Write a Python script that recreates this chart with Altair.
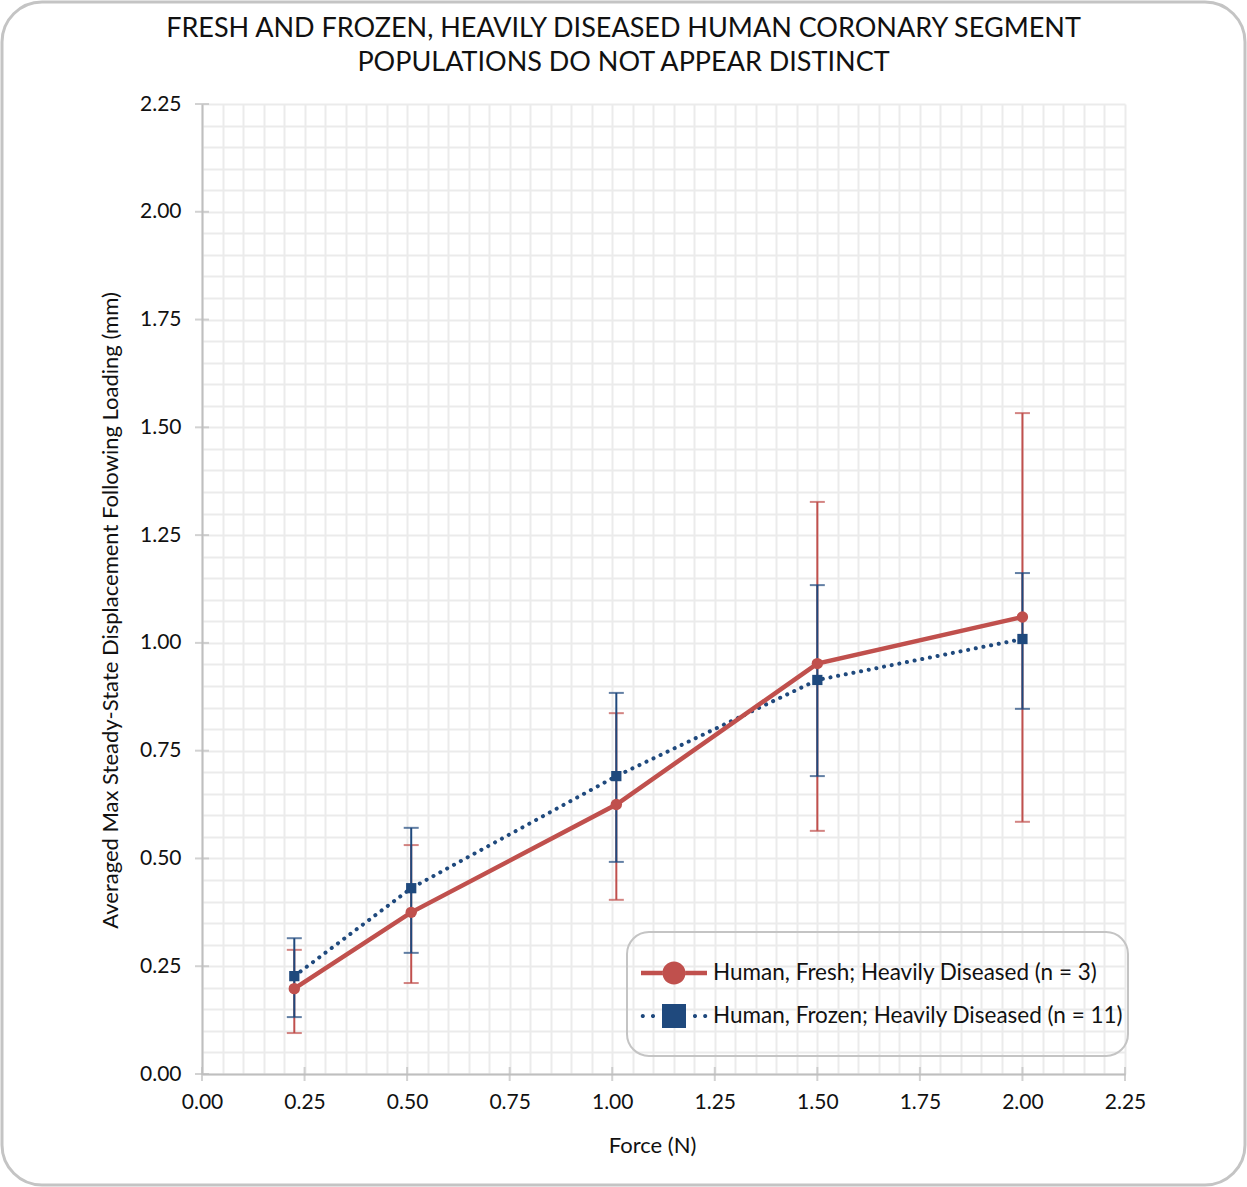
import altair as alt
import pandas as pd

# ---- data ----
force = [0.225, 0.51, 1.01, 1.5, 2.0]
fresh_mean = [0.198, 0.375, 0.625, 0.952, 1.060]
fresh_lo = [0.095, 0.211, 0.404, 0.564, 0.585]
fresh_hi = [0.288, 0.531, 0.837, 1.327, 1.533]
frozen_mean = [0.227, 0.431, 0.691, 0.914, 1.009]
frozen_lo = [0.132, 0.281, 0.492, 0.691, 0.847]
frozen_hi = [0.315, 0.571, 0.884, 1.134, 1.162]

major_ticks = [0.0, 0.25, 0.5, 0.75, 1.0, 1.25, 1.5, 1.75, 2.0, 2.25]

FRESH_LABEL = "Human, Fresh; Heavily Diseased (n = 3)"
FROZEN_LABEL = "Human, Frozen; Heavily Diseased (n = 11)"
TITLE = ["FRESH AND FROZEN, HEAVILY DISEASED HUMAN CORONARY SEGMENT",
         "POPULATIONS DO NOT APPEAR DISTINCT"]
X_TITLE = "Force (N)"
Y_TITLE = "Averaged Max Steady-State Displacement Following Loading (mm)"

RED = "#C0504D"
BLUE = "#1F497D"
AXIS_GREY = "#BFBFBF"
FONT = "Lato"
W, H = 923, 970

fresh = pd.DataFrame({"force": force, "mean": fresh_mean, "lo": fresh_lo,
                      "hi": fresh_hi, "series": FRESH_LABEL})
frozen = pd.DataFrame({"force": force, "mean": frozen_mean, "lo": frozen_lo,
                       "hi": frozen_hi, "series": FROZEN_LABEL})
ticks_df = pd.DataFrame({"v": major_ticks, "zero": [0.0] * len(major_ticks)})

grid_vals = [round(i * 0.05, 2) for i in range(46)]
major = "abs(datum.value*4 - round(datum.value*4)) < 0.001"
label_expr = f"{major} ? format(datum.value, '.2f') : ''"

x_scale = alt.Scale(domain=[0, 2.25], nice=False, zero=False)
y_scale = alt.Scale(domain=[0, 2.25], nice=False, zero=False)

x_axis = alt.Axis(values=grid_vals, labelExpr=label_expr, labelOverlap=False,
                  labelFlush=False, ticks=False, labelPadding=17,
                  titleX=450, titleY=71, titleBaseline="middle", titleAlign="center")
y_axis = alt.Axis(values=grid_vals, labelExpr=label_expr, labelOverlap=False,
                  labelFlush=False, ticks=False, labelPadding=21,
                  titleX=-92, titleY=506, titleBaseline="middle", titleAlign="center")


def X(field="force:Q"):
    return alt.X(field, scale=x_scale, axis=x_axis, title=X_TITLE)


def Y(field):
    return alt.Y(field, scale=y_scale, axis=y_axis, title=Y_TITLE)


def err_layers(df, color):
    rule = alt.Chart(df).mark_rule(color=color, strokeWidth=2).encode(
        x=X(), y=Y("lo:Q"), y2="hi:Q")
    caps = alt.Chart(df).transform_fold(["lo", "hi"], as_=["end", "val"]).mark_tick(
        color=color, orient="horizontal", size=15, thickness=2).encode(
        x=X(), y=Y("val:Q"))
    return rule, caps


def dot(cx, r):
    return (f"M{cx - r},0A{r},{r},0,1,0,{cx + r},0"
            f"A{r},{r},0,1,0,{cx - r},0Z")


# legend symbols (unit = half the symbol width)
PATH_FRESH = ("M-2.75,-0.19H-0.95V0.19H-2.75Z"
              "M0.95,-0.19H2.75V0.19H0.95Z" + dot(0, 0.96))
PATH_FROZEN = ("M-1,-1H1V1H-1Z" + dot(-2.6, 0.17) + dot(-1.75, 0.17)
               + dot(1.75, 0.17) + dot(2.6, 0.17))

fr_rule, fr_caps = err_layers(fresh, RED)
fz_rule, fz_caps = err_layers(frozen, BLUE)

x_ticks = alt.Chart(ticks_df).mark_tick(
    color=AXIS_GREY, orient="vertical", size=14, thickness=2).encode(
    x=X("v:Q"), y=Y("zero:Q"))
y_ticks = alt.Chart(ticks_df).mark_tick(
    color=AXIS_GREY, orient="horizontal", size=14, thickness=2).encode(
    x=X("zero:Q"), y=Y("v:Q"))

fresh_line = alt.Chart(fresh).mark_line(color=RED, strokeWidth=4.5).encode(
    x=X(), y=Y("mean:Q"))
frozen_line = alt.Chart(frozen).mark_line(
    color=BLUE, strokeWidth=4, strokeDash=[0.1, 7.7], strokeCap="round").encode(
    x=X(), y=Y("mean:Q"))

LEG_COMMON = dict(title=None, orient="none", symbolSize=576, symbolStrokeWidth=0,
                  labelFont=FONT, labelFontSize=22.5, labelColor="#111",
                  labelOffset=27, labelLimit=600, padding=0)

fresh_pts = alt.Chart(fresh).mark_point(
    filled=True, shape="circle", size=130, opacity=1).encode(
    x=X(), y=Y("mean:Q"),
    color=alt.Color("series:N", scale=alt.Scale(domain=[FRESH_LABEL], range=[RED]),
                    legend=alt.Legend(legendX=460, legendY=857,
                                      symbolType=PATH_FRESH, **LEG_COMMON)))
frozen_pts = alt.Chart(frozen).mark_point(
    filled=True, shape="square", size=105, opacity=1).encode(
    x=X(), y=Y("mean:Q"),
    color=alt.Color("series:N", scale=alt.Scale(domain=[FROZEN_LABEL], range=[BLUE]),
                    legend=alt.Legend(legendX=460, legendY=900,
                                      symbolType=PATH_FROZEN, **LEG_COMMON)))

deco = pd.DataFrame({"k": [0]})
outer_box = alt.Chart(deco).mark_rect(
    filled=False, stroke="#C4C4C4", strokeWidth=3, cornerRadius=40).encode(
    x=alt.value(-200), x2=alt.value(1043), y=alt.value(-102), y2=alt.value(1081))
legend_box = alt.Chart(deco).mark_rect(
    filled=False, stroke="#C4C4C4", strokeWidth=2, cornerRadius=22).encode(
    x=alt.value(425), x2=alt.value(926), y=alt.value(828), y2=alt.value(952))

chart = alt.layer(
    outer_box, legend_box, x_ticks, y_ticks,
    fr_rule, fr_caps, fz_rule, fz_caps,
    frozen_line, frozen_pts, fresh_line, fresh_pts,
).resolve_scale(color="independent").properties(
    width=W, height=H,
    autosize=alt.AutoSizeParams(type="none"),
    padding={"left": 202, "top": 104, "right": 122, "bottom": 113},
    title=alt.TitleParams(text=TITLE, font=FONT, fontSize=27, fontWeight="normal",
                          color="#111", anchor="middle", frame="group", dx=-40,
                          offset=-76, lineHeight=34),
).configure(background="white").configure_axis(
    domainColor=AXIS_GREY, domainWidth=2,
    gridColor="#EBEBEB", gridWidth=2, labelFont=FONT, labelFontSize=21,
    labelColor="#111", titleFont=FONT, titleFontSize=22, titleFontWeight="normal",
    titleColor="#111",
).configure_view(strokeWidth=0)

chart.save("out.html", embed_options={"renderer": "svg", "actions": False})
